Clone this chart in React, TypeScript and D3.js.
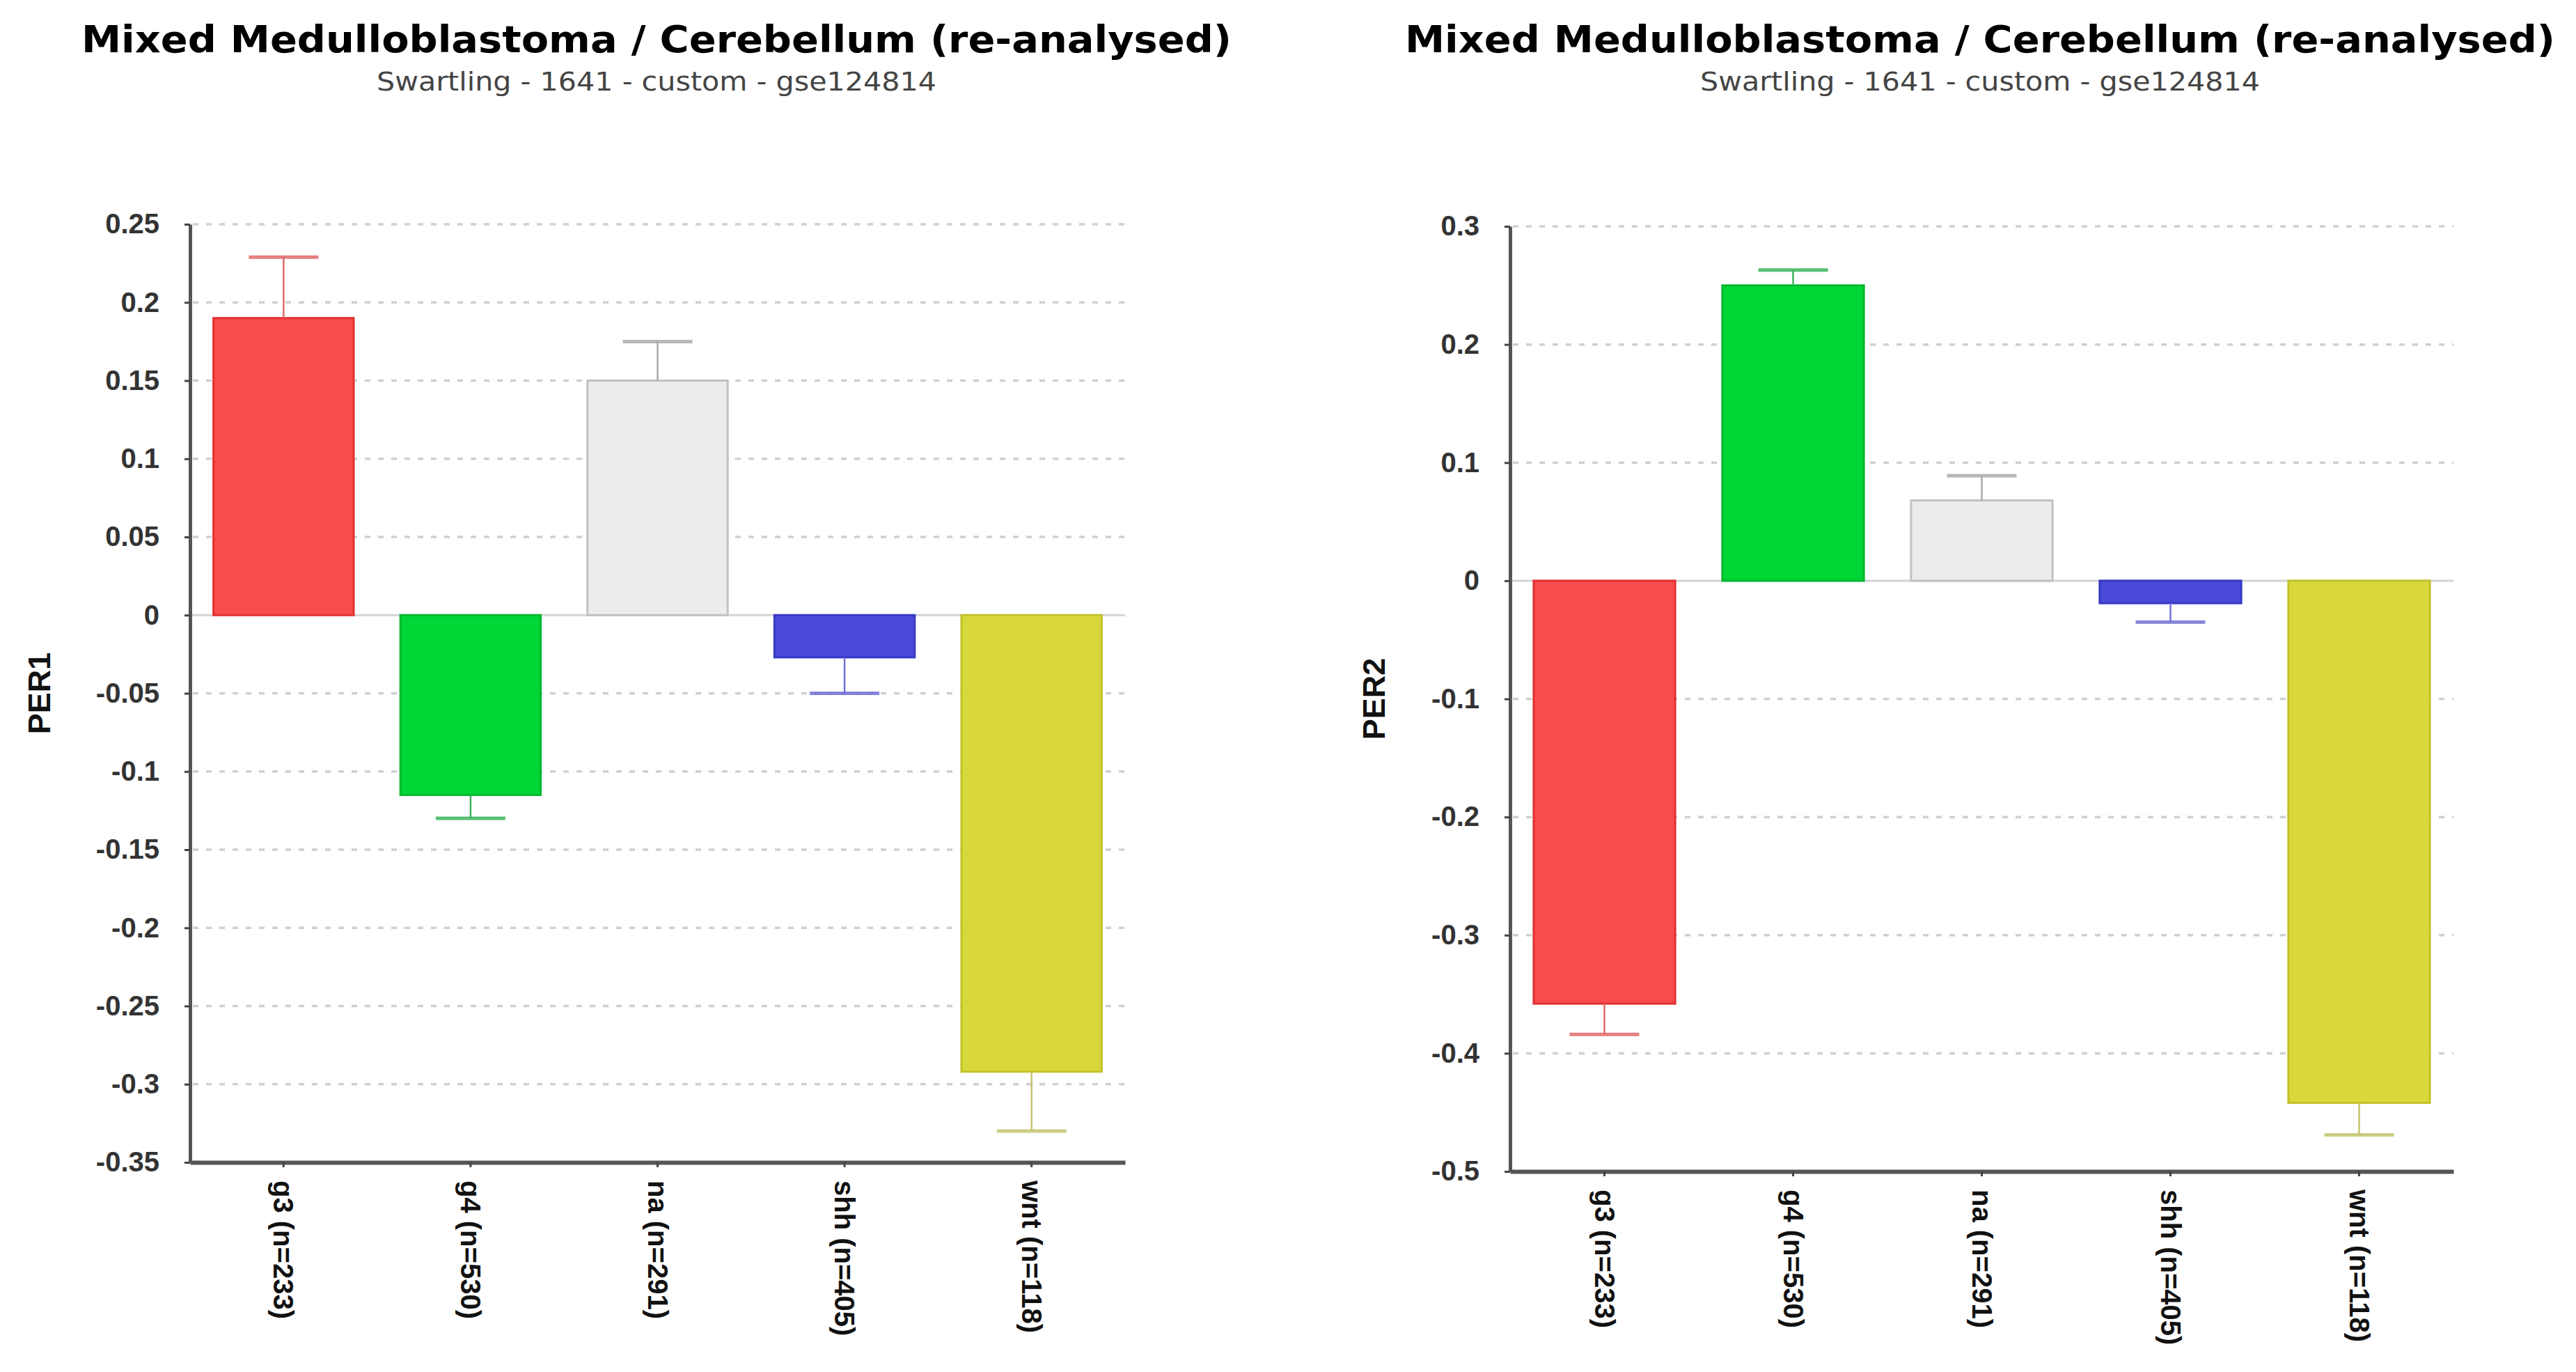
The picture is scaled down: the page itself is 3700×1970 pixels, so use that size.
import React, { useEffect, useRef } from "react";
import * as d3 from "d3";

// Categories and values
const categories = ["g3 (n=233)", "g4 (n=530)", "na (n=291)", "shh (n=405)", "wnt (n=118)"];

const per1Values = [0.19, -0.115, 0.15, -0.027, -0.292];
const per1Errors = [0.039, 0.015, 0.025, 0.023, 0.038];
const per1Ticks = [0.25, 0.2, 0.15, 0.1, 0.05, 0, -0.05, -0.1, -0.15, -0.2, -0.25, -0.3, -0.35];

const per2Values = [-0.358, 0.25, 0.068, -0.019, -0.442];
const per2Errors = [0.026, 0.013, 0.021, 0.016, 0.027];
const per2Ticks = [0.3, 0.2, 0.1, 0, -0.1, -0.2, -0.3, -0.4, -0.5];

const barFill = ["#f84b4b", "#00d636", "#ececec", "#4a4ad8", "#d8d83c"];
const barStroke = ["#e23232", "#00b82e", "#c2c2c2", "#3838c6", "#c2c22a"];
const errColor = ["#e06a6a", "#3cb45c", "#aaaaaa", "#7070d4", "#c4c46e"];

const TITLE = "Mixed Medulloblastoma / Cerebellum (re-analysed)";
const SUBTITLE = "Swartling - 1641 - custom - gse124814";

interface PanelSpec {
  label: string;
  values: number[];
  errors: number[];
  ticks: number[];
  left: number;
  right: number;
  top: number;
  bottom: number;
  titleX: number;
  labelX: number;
}

const panels: PanelSpec[] = [
  {
    label: "PER1",
    values: per1Values,
    errors: per1Errors,
    ticks: per1Ticks,
    left: 273,
    right: 1616,
    top: 322,
    bottom: 1669,
    titleX: 943,
    labelX: 56,
  },
  {
    label: "PER2",
    values: per2Values,
    errors: per2Errors,
    ticks: per2Ticks,
    left: 2169,
    right: 3524,
    top: 325,
    bottom: 1682,
    titleX: 2844,
    labelX: 1973,
  },
];

const drawPanel = (
  root: d3.Selection<SVGSVGElement, unknown, null, undefined>,
  p: PanelSpec
) => {
  const g = root.append("g");

  const x = d3
    .scaleBand()
    .domain(categories)
    .range([p.left, p.right])
    .paddingInner(0.25)
    .paddingOuter(0.125);

  const y = d3
    .scaleLinear()
    .domain([p.ticks[p.ticks.length - 1], p.ticks[0]])
    .range([p.bottom, p.top]);

  // Title + subtitle
  g.append("text")
    .attr("x", p.titleX)
    .attr("y", 75)
    .attr("text-anchor", "middle")
    .attr("textLength", 1652)
    .attr("lengthAdjust", "spacingAndGlyphs")
    .style("font-family", "'DejaVu Sans', Verdana, sans-serif")
    .style("font-weight", "bold")
    .style("font-size", "54px")
    .style("fill", "#000")
    .text(TITLE);

  g.append("text")
    .attr("x", p.titleX)
    .attr("y", 130)
    .attr("text-anchor", "middle")
    .attr("textLength", 804)
    .attr("lengthAdjust", "spacingAndGlyphs")
    .style("font-family", "'DejaVu Sans', Verdana, sans-serif")
    .style("font-size", "38px")
    .style("fill", "#444")
    .text(SUBTITLE);

  // Dashed grid lines
  g.append("g")
    .selectAll("line")
    .data(p.ticks.filter((t) => t !== 0))
    .join("line")
    .attr("x1", p.left + 4)
    .attr("x2", p.right)
    .attr("y1", (d) => y(d))
    .attr("y2", (d) => y(d))
    .attr("stroke", "#cfcfcf")
    .attr("stroke-width", 3.5)
    .attr("stroke-dasharray", "8 11");

  // zero line
  g.append("line")
    .attr("x1", p.left)
    .attr("x2", p.right)
    .attr("y1", y(0))
    .attr("y2", y(0))
    .attr("stroke", "#d4d4d4")
    .attr("stroke-width", 3);

  const data = categories.map((c, i) => ({
    cat: c,
    value: p.values[i],
    err: p.errors[i],
    i,
  }));

  // Bars
  g.append("g")
    .selectAll("rect")
    .data(data)
    .join("rect")
    .attr("x", (d) => x(d.cat) || 0)
    .attr("width", x.bandwidth())
    .attr("y", (d) => Math.min(y(0), y(d.value)))
    .attr("height", (d) => Math.abs(y(d.value) - y(0)))
    .attr("fill", (d) => barFill[d.i])
    .attr("stroke", (d) => barStroke[d.i])
    .attr("stroke-width", 3);

  // Error bars
  const errs = g.append("g");
  data.forEach((d) => {
    const cx = (x(d.cat) || 0) + x.bandwidth() / 2;
    const end = d.value + Math.sign(d.value) * d.err;
    errs
      .append("line")
      .attr("x1", cx)
      .attr("x2", cx)
      .attr("y1", y(d.value))
      .attr("y2", y(end))
      .attr("stroke", errColor[d.i])
      .attr("stroke-width", 2.5);
    errs
      .append("line")
      .attr("x1", cx - 50)
      .attr("x2", cx + 50)
      .attr("y1", y(end))
      .attr("y2", y(end))
      .attr("stroke", errColor[d.i])
      .attr("stroke-opacity", 0.85)
      .attr("stroke-width", 5);
  });

  // Y axis
  const yAxis = g
    .append("g")
    .attr("transform", `translate(${p.left}, 0)`)
    .call(
      d3
        .axisLeft(y)
        .tickValues(p.ticks)
        .tickFormat((d) => String(d))
        .tickSize(8)
        .tickSizeOuter(0)
        .tickPadding(36)
    );
  yAxis.select(".domain").attr("stroke", "#555").attr("stroke-width", 5);
  yAxis.selectAll(".tick line").attr("stroke", "#444").attr("stroke-width", 3);
  yAxis
    .selectAll("text")
    .style("font-family", "'Liberation Sans', Arial, sans-serif")
    .style("font-weight", "bold")
    .style("font-size", "40px")
    .style("fill", "#333");

  // X axis
  const xAxis = g
    .append("g")
    .attr("transform", `translate(0, ${p.bottom})`)
    .call(d3.axisBottom(x).tickSize(7).tickSizeOuter(0));
  xAxis.select(".domain").attr("stroke", "#555").attr("stroke-width", 6);
  xAxis.selectAll(".tick line").attr("stroke", "#444").attr("stroke-width", 3);
  xAxis
    .selectAll("text")
    .attr("transform", "rotate(90)")
    .attr("x", 26)
    .attr("y", 0)
    .attr("dy", "0.35em")
    .attr("text-anchor", "start")
    .style("font-family", "'Liberation Sans', Arial, sans-serif")
    .style("font-weight", "bold")
    .style("font-size", "40px")
    .style("fill", "#111");

  // Y axis label
  g.append("text")
    .attr("transform", `translate(${p.labelX}, ${(p.top + p.bottom) / 2}) rotate(-90)`)
    .attr("text-anchor", "middle")
    .attr("dy", "0.35em")
    .style("font-family", "'Liberation Sans', Arial, sans-serif")
    .style("font-weight", "bold")
    .style("font-size", "45px")
    .style("fill", "#111")
    .text(p.label);
};

const App: React.FC = () => {
  const svgRef = useRef<SVGSVGElement>(null);

  useEffect(() => {
    if (!svgRef.current) return;
    const svg = d3.select(svgRef.current);
    svg.selectAll("*").remove();
    svg.append("rect").attr("width", 3700).attr("height", 1970).attr("fill", "#fff");
    panels.forEach((p) => drawPanel(svg, p));
  }, []);

  return (
    <svg
      ref={svgRef}
      width={3700}
      height={1970}
      style={{ position: "absolute", left: 0, top: 0, display: "block" }}
    />
  );
};

export default App;
